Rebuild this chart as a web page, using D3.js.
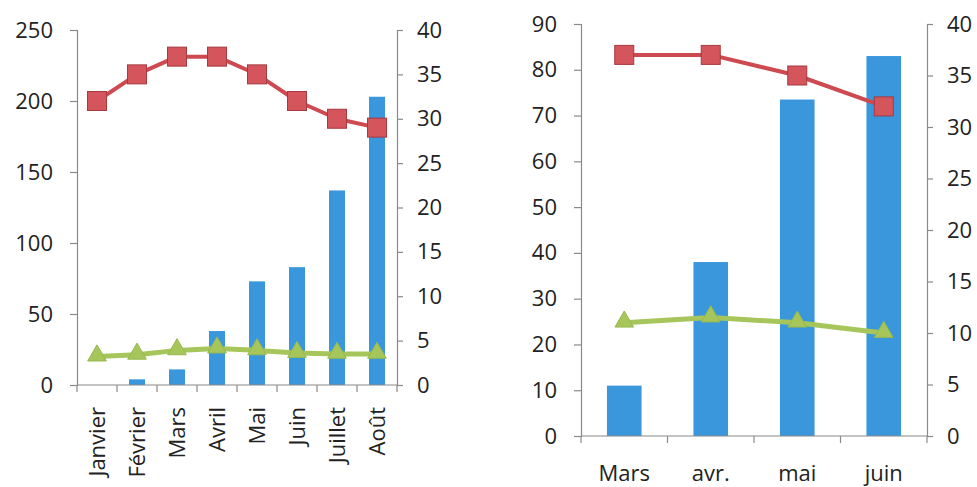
<!DOCTYPE html>
<html>
<head>
<meta charset="utf-8">
<script src="https://cdn.jsdelivr.net/npm/d3@7"></script>
<style>
html,body{margin:0;padding:0;background:#fff;}
svg{display:block;}
text{font-family:"Open Sans",sans-serif;fill:#222;}
</style>
</head>
<body>
<script>
// ---- Data: left chart ----
const monthsA = ["Janvier","Février","Mars","Avril","Mai","Juin","Juillet","Août"];
const barsA = [0, 4, 11, 38, 73, 83, 137, 203];
const redA = [32, 35, 37, 37, 35, 32, 30, 29];
const greenA = [3.2, 3.4, 3.9, 4.1, 3.9, 3.6, 3.5, 3.5];
const leftTicksA = [0, 50, 100, 150, 200, 250];
const rightTicksA = [0, 5, 10, 15, 20, 25, 30, 35, 40];

// ---- Data: right chart ----
const monthsB = ["Mars","avr.","mai","juin"];
const barsB = [11, 38, 73.5, 83];
const redB = [37, 37, 35, 32];
const greenB = [11, 11.5, 11, 10];
const leftTicksB = [0, 10, 20, 30, 40, 50, 60, 70, 80, 90];
const rightTicksB = [0, 5, 10, 15, 20, 25, 30, 35, 40];

const W = 977, H = 487;
const FS = 22;
const svg = d3.select("body").append("svg").attr("width", W).attr("height", H);

const AXIS = "#8a8a8a";
const BLUE = "#3b97dc";
const RED = "#d4555b", REDLINE = "#cc4a50", REDEDGE = "#a53a40";
const GREEN = "#a6c65c";

function chart(cfg) {
  const g = svg.append("g");
  const x = d3.scaleBand().domain(cfg.cats).range([cfg.x0, cfg.x1]).padding(0);
  const yL = d3.scaleLinear().domain([0, cfg.leftMax]).range([cfg.yBot, cfg.yTop]);
  const yR = d3.scaleLinear().domain([0, 40]).range([cfg.yBot, cfg.yTop]);
  const bw = x.bandwidth() * 0.4;

  // bars
  g.selectAll("rect.bar").data(cfg.bars).enter().append("rect")
    .attr("x", (d, i) => x(cfg.cats[i]) + x.bandwidth() / 2 - bw / 2)
    .attr("y", d => yL(d))
    .attr("width", bw)
    .attr("height", d => yL(0) - yL(d))
    .attr("fill", BLUE);

  // left axis
  const ax = d3.axisLeft(yL).tickValues(cfg.leftTicks).tickSize(7).tickPadding(17);
  const gl = g.append("g").attr("transform", `translate(${cfg.x0},0)`).call(ax);
  // right axis
  const axr = d3.axisRight(yR).tickValues(cfg.rightTicks).tickSize(6).tickPadding(14);
  const gr = g.append("g").attr("transform", `translate(${cfg.x1},0)`).call(axr);
  [gl, gr].forEach(a => {
    a.select(".domain").attr("stroke", AXIS).attr("stroke-width", 1.2);
    a.selectAll(".tick line").attr("stroke", AXIS).attr("stroke-width", 1.2);
    a.selectAll("text").attr("font-size", FS).attr("fill", "#222")
      .attr("font-family", '"Open Sans",sans-serif');
  });

  // x axis line + boundary ticks
  g.append("line").attr("x1", cfg.x0).attr("x2", cfg.x1)
    .attr("y1", yL(0)).attr("y2", yL(0)).attr("stroke", AXIS).attr("stroke-width", 1.2);
  const bounds = cfg.cats.map(c => x(c)).concat([cfg.x1]);
  g.selectAll("line.xt").data(bounds).enter().append("line")
    .attr("x1", d => d).attr("x2", d => d)
    .attr("y1", yL(0)).attr("y2", yL(0) + 7)
    .attr("stroke", AXIS).attr("stroke-width", 1.2);

  // x labels
  const xa = d3.axisBottom(x).tickSize(0).tickPadding(0);
  const gx = g.append("g").attr("transform", `translate(0,${yL(0)})`).call(xa);
  gx.select(".domain").remove();
  gx.selectAll("text").attr("font-size", FS).attr("fill", "#222")
    .attr("font-family", '"Open Sans",sans-serif');
  if (cfg.rotate) {
    gx.selectAll("text")
      .attr("text-anchor", "end")
      .attr("dy", "0.36em")
      .attr("transform", "translate(0,22) rotate(-90)")
      .attr("y", 0).attr("x", 0);
  } else {
    gx.selectAll("text").attr("y", 45).attr("dy", 0);
  }

  const cx = i => x(cfg.cats[i]) + x.bandwidth() / 2;

  // green line
  const lineG = d3.line().x((d, i) => cx(i)).y(d => yR(d));
  g.append("path").datum(cfg.green).attr("d", lineG)
    .attr("fill", "none").attr("stroke", GREEN).attr("stroke-width", 5)
    .attr("stroke-linejoin", "round");
  const tri = d3.symbol().type(d3.symbolTriangle).size(150);
  g.selectAll("path.tri").data(cfg.green).enter().append("path")
    .attr("d", tri)
    .attr("transform", (d, i) => `translate(${cx(i)},${yR(d) - 1})`)
    .attr("fill", GREEN).attr("stroke", "#97b84e").attr("stroke-width", 1);

  // red line
  const lineR = d3.line().x((d, i) => cx(i)).y(d => yR(d));
  g.append("path").datum(cfg.red).attr("d", lineR)
    .attr("fill", "none").attr("stroke", REDLINE).attr("stroke-width", 4)
    .attr("stroke-linejoin", "round");
  const s = 19;
  g.selectAll("rect.sq").data(cfg.red).enter().append("rect")
    .attr("x", (d, i) => cx(i) - s / 2)
    .attr("y", d => yR(d) - s / 2)
    .attr("width", s).attr("height", s)
    .attr("fill", RED).attr("stroke", REDEDGE).attr("stroke-width", 1);
}

chart({cats: monthsA, bars: barsA, red: redA, green: greenA,
  leftTicks: leftTicksA, rightTicks: rightTicksA, leftMax: 250,
  x0: 77, x1: 397, yTop: 30, yBot: 385, rotate: true});

chart({cats: monthsB, bars: barsB, red: redB, green: greenB,
  leftTicks: leftTicksB, rightTicks: rightTicksB, leftMax: 90,
  x0: 581, x1: 927, yTop: 24, yBot: 436, rotate: false});
</script>
</body>
</html>
